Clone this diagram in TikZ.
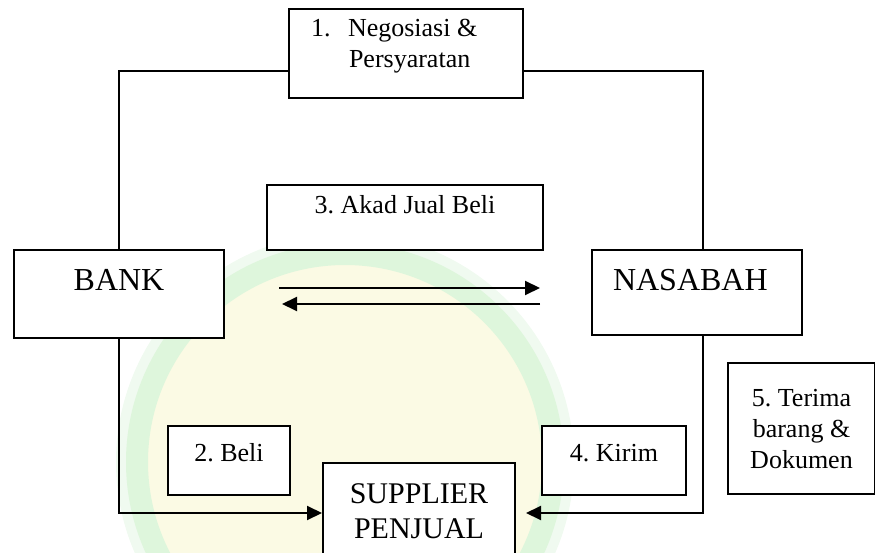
\documentclass[tikz,border=0pt]{standalone}
\usepackage{fontspec}
\setmainfont{Liberation Serif}
\frenchspacing
\usetikzlibrary{arrows.meta}
\definecolor{wmyel}{HTML}{FBFAE4}
\definecolor{wmgrn}{HTML}{DEF6DC}
\definecolor{wmedge}{HTML}{F0FAF0}

\begin{document}
\begin{tikzpicture}[x=1pt,y=1pt,
   box/.style={draw=black,line width=2pt,fill=white,inner xsep=0pt,inner ysep=0pt,
     anchor=north west,align=flush center,font=\fontsize{26}{31}\selectfont},
   big/.style={font=\fontsize{32}{38}\selectfont},
   link/.style={line width=2pt},
   flow/.style={link,-{Triangle[length=15pt,width=14pt]}}]
\useasboundingbox (0,0) rectangle (875,552);
\clip (0,0) rectangle (875,552);
% watermark behind the scheme
\fill[wmyel] (345,90) circle[radius=217pt];
\draw[wmedge,line width=14pt] (345,90) circle[radius=222pt];
\draw[wmgrn,line width=22pt] (345,90) circle[radius=208pt];
% boxes
\node[box,align=flush left,inner xsep=22pt,text width=190pt,text height=28pt,text depth=61pt]
   (nego) at (288,544) {\makebox[37pt][l]{1.}Negosiasi \&\\\hspace*{38pt}Persyaratan};
\node[box,text width=276pt,text height=29pt,text depth=36pt] (akad) at (266,368) {3. Akad Jual Beli};
\node[box,big,text width=210pt,text height=41pt,text depth=47pt] (bank) at (13,303) {BANK};
\node[box,big,align=flush left,inner xsep=21pt,text width=168pt,text height=41pt,text depth=44pt]
   (nasabah) at (591,303) {NASABAH};
\node[box,text width=122pt,text height=35pt,text depth=34pt] (beli) at (167,127) {2. Beli};
\node[box,text width=144pt,text height=35pt,text depth=34pt] (kirim) at (541,127) {4. Kirim};
\node[box,text width=147pt,text height=43pt,text depth=88pt] (terima) at (727,190) {5. Terima\\barang \&\\Dokumen};
\node[box,font=\fontsize{30}{35}\selectfont,text width=192pt,text height=40pt,text depth=60pt]
   (supplier) at (322,90) {SUPPLIER\\PENJUAL};
% connectors
\draw[link] ([yshift=-17.5pt]nego.west) -| (bank.north);
\draw[link] ([yshift=-17.5pt]nego.east) -| ([xshift=6pt]nasabah.north);
\draw[flow,shorten <=54pt,shorten >=51pt] ([yshift=6pt]bank.east) -- ([yshift=6pt]bank.east -| nasabah.west);
\draw[flow,shorten <=51pt,shorten >=57pt] ([yshift=-10pt]bank.east -| nasabah.west) -- ([yshift=-10pt]bank.east);
\draw[flow] (bank.south) |- (supplier.west);
\draw[flow,shorten >=10pt] ([xshift=6pt]nasabah.south) |- (supplier.east);
\end{tikzpicture}
\end{document}
